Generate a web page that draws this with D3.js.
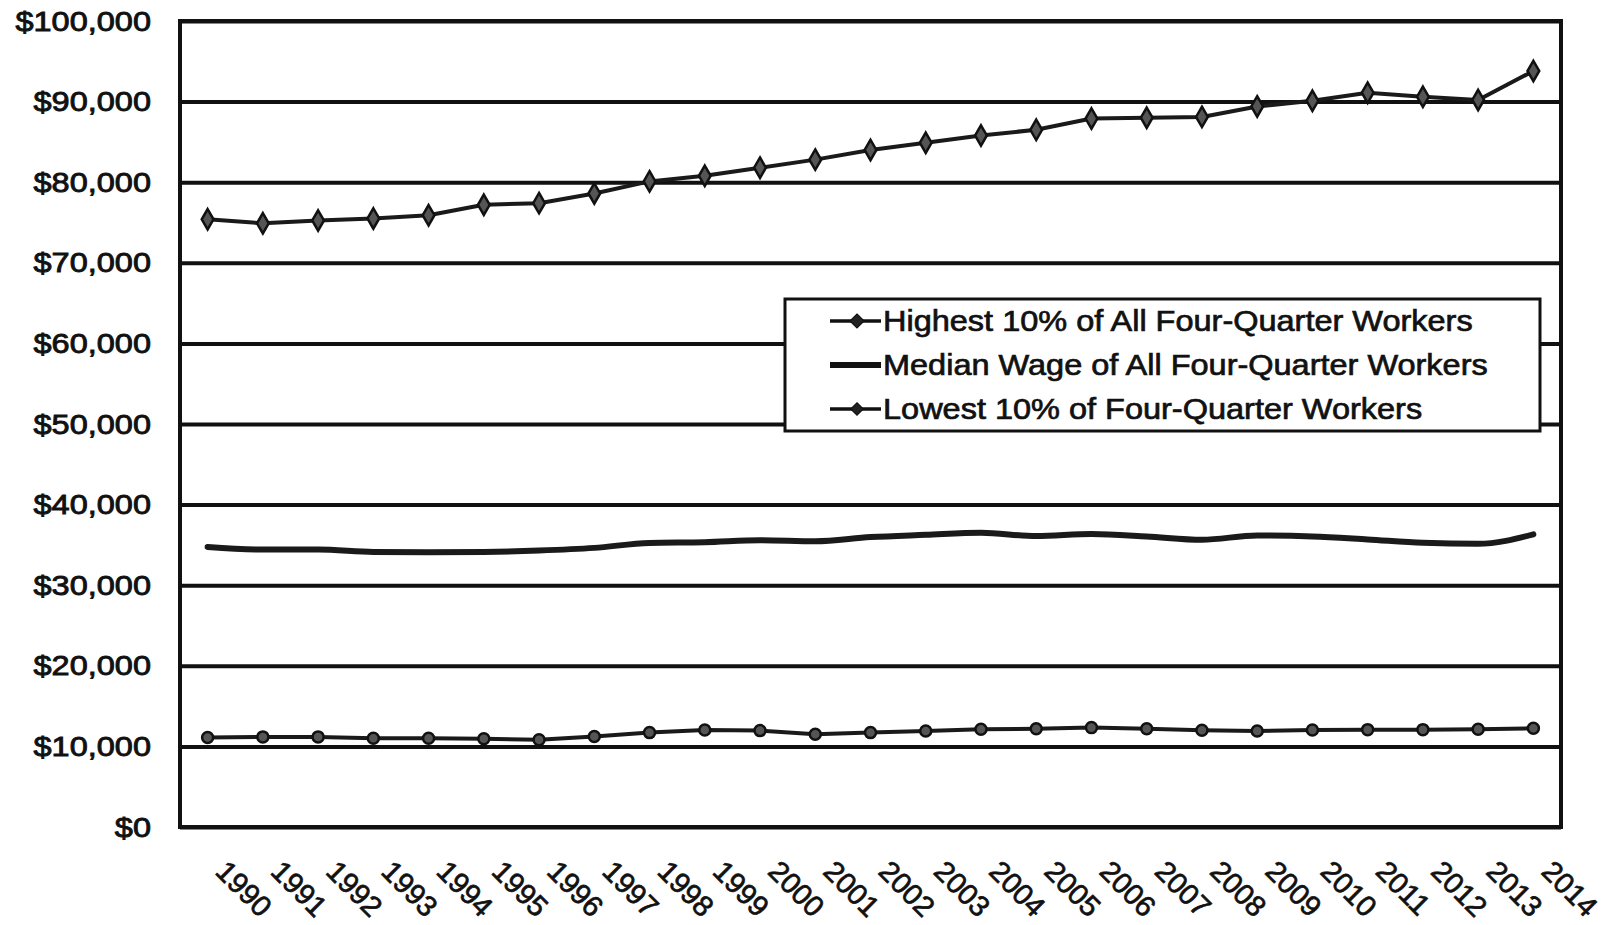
<!DOCTYPE html>
<html><head><meta charset="utf-8">
<script src="https://cdn.jsdelivr.net/npm/d3@7"></script>
<style>
body{margin:0;background:#fff;}
text{font-family:"Liberation Sans",Arial,sans-serif;fill:#111;}
</style>
</head><body>
<svg id="c" width="1613" height="925"></svg>
<script>
const years = [1990,1991,1992,1993,1994,1995,1996,1997,1998,1999,2000,2001,2002,2003,2004,2005,2006,2007,2008,2009,2010,2011,2012,2013,2014];
const highest = [75400,74900,75250,75500,75900,77200,77400,78600,80100,80800,81800,82800,84000,84900,85800,86500,87900,88000,88100,89400,90100,91100,90600,90200,93800];
const median = [34750,34420,34420,34130,34090,34130,34300,34630,35250,35330,35580,35450,35970,36250,36500,36100,36340,36050,35640,36170,36050,35680,35270,35140,36300];
const lowest = [11100,11180,11180,11020,11020,10940,10820,11220,11710,12040,11960,11510,11710,11920,12120,12200,12330,12200,12000,11920,12040,12080,12080,12120,12240];
const yTicks = [0,10000,20000,30000,40000,50000,60000,70000,80000,90000,100000];
const legendLabels = ["Highest 10% of All Four-Quarter Workers","Median Wage of All Four-Quarter Workers","Lowest 10% of Four-Quarter Workers"];

const L = 180, R = 1561, T = 21, B = 827;
const svg = d3.select("#c");
svg.append("rect").attr("width",1613).attr("height",925).attr("fill","#fff");

const x = d3.scalePoint().domain(years).range([L, R]).padding(0.5);
const y = d3.scaleLinear().domain([0, 100000]).range([B, T]);

// gridlines
const grid = svg.append("g").attr("transform", `translate(${L},0)`)
  .call(d3.axisLeft(y).tickValues(yTicks).tickSize(-(R - L)).tickFormat(""));
grid.select(".domain").remove();
grid.selectAll("line").attr("stroke", "#111").attr("stroke-width", 4);

// plot border
svg.append("rect").attr("x", L).attr("y", T).attr("width", R - L).attr("height", B - T)
  .attr("fill", "none").attr("stroke", "#111").attr("stroke-width", 4);

// y axis labels
const fmt = d3.format(",");
const yAx = svg.append("g").attr("transform", `translate(${L},0)`)
  .call(d3.axisLeft(y).tickValues(yTicks).tickSize(0).tickPadding(29).tickFormat(d => "$" + fmt(d)));
yAx.select(".domain").remove();
yAx.selectAll("text").style("font-size", "28.5px").attr("fill", "#111")
  .attr("stroke", "#111").attr("stroke-width", 0.9)
  .each(function(){ const w = this.getComputedTextLength(); d3.select(this).attr("textLength", w * 1.14).attr("lengthAdjust", "spacingAndGlyphs"); });

// x axis labels
const xAx = svg.append("g").attr("transform", `translate(0,${B})`)
  .call(d3.axisBottom(x).tickSize(0).tickFormat(d => String(d)));
xAx.select(".domain").remove();
xAx.selectAll("text").style("font-size", "29px").attr("fill", "#111")
  .attr("stroke", "#111").attr("stroke-width", 0.7)
  .attr("x", 0).attr("y", 0).attr("dy", 0)
  .attr("text-anchor", "start")
  .attr("transform", "translate(6,46) rotate(45)");

// lines
const line = d3.line().x((d, i) => x(years[i])).y(d => y(d));
const smooth = d3.line().x((d, i) => x(years[i])).y(d => y(d)).curve(d3.curveMonotoneX);

svg.append("path").datum(highest).attr("d", line).attr("fill", "none")
  .attr("stroke", "#1a1a1a").attr("stroke-width", 4).attr("stroke-linejoin", "round");
svg.append("path").datum(median).attr("d", smooth).attr("fill", "none")
  .attr("stroke", "#1a1a1a").attr("stroke-width", 6).attr("stroke-linecap", "round");
svg.append("path").datum(lowest).attr("d", line).attr("fill", "none")
  .attr("stroke", "#1a1a1a").attr("stroke-width", 4).attr("stroke-linejoin", "round");

const diamond = d3.symbol().type(d3.symbolDiamond).size(120);
svg.append("g").selectAll("path").data(highest).join("path")
  .attr("d", diamond).attr("transform", (d, i) => `translate(${x(years[i])},${y(d)})`)
  .attr("fill", "#555").attr("stroke", "#111").attr("stroke-width", 2.5);
svg.append("g").selectAll("circle").data(lowest).join("circle")
  .attr("cx", (d, i) => x(years[i])).attr("cy", d => y(d)).attr("r", 5.5)
  .attr("fill", "#555").attr("stroke", "#111").attr("stroke-width", 2.5);

// legend
const lg = svg.append("g");
lg.append("rect").attr("x", 785).attr("y", 299).attr("width", 755).attr("height", 132)
  .attr("fill", "#fff").attr("stroke", "#111").attr("stroke-width", 3);
const rowY = [321, 365, 409];
legendLabels.forEach((lab, i) => {
  const yy = rowY[i];
  lg.append("line").attr("x1", 830).attr("x2", 881).attr("y1", yy).attr("y2", yy)
    .attr("stroke", "#111").attr("stroke-width", i === 1 ? 6 : 3.5);
  if (i !== 1) {
    lg.append("path").attr("d", d3.symbol().type(d3.symbolDiamond).size(i === 0 ? 90 : 70)())
      .attr("transform", `translate(857,${yy}) scale(1.4,0.8)`).attr("fill", "#222").attr("stroke", "#111").attr("stroke-width", 1);
  }
  lg.append("text").attr("x", 883).attr("y", yy).attr("dy", "0.36em")
    .style("font-size", "29px").attr("stroke", "#111").attr("stroke-width", 0.7)
    .text(lab)
    .each(function(){ const w = this.getComputedTextLength(); d3.select(this).attr("textLength", w * 1.12).attr("lengthAdjust", "spacingAndGlyphs"); });
});
</script>
</body></html>
